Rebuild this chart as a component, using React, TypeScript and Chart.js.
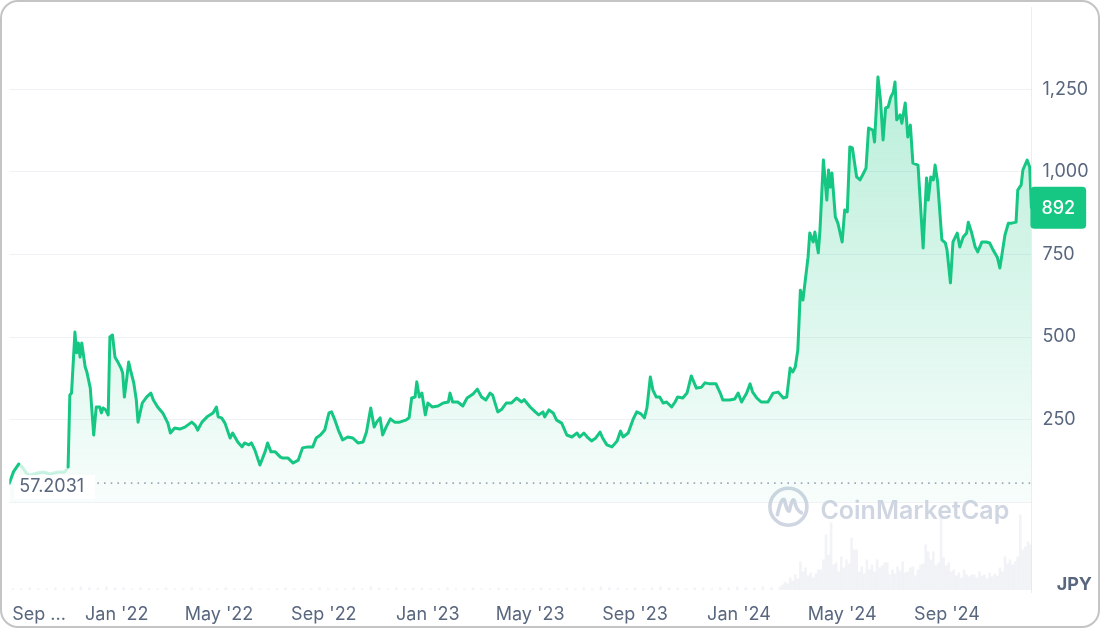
import React, { useEffect, useRef } from "react";
import { Chart, registerables } from "chart.js";

Chart.register(...registerables);

// Days since 1 Sep 2021
const DAYS = [
  -4, 1, 7, 11, 16, 20, 29, 36, 44, 53,
  61, 65, 67, 69, 73, 75, 77, 79, 81, 85,
  87, 91, 95, 98, 102, 104, 106, 109, 112, 114,
  117, 120, 124, 127, 129, 131, 134, 136, 139, 142,
  145, 147, 152, 157, 162, 165, 170, 176, 182, 185,
  190, 196, 202, 210, 214, 217, 222, 228, 235, 239,
  241, 245, 249, 255, 258, 264, 269, 272, 277, 280,
  284, 290, 296, 299, 303, 308, 314, 317, 323, 329,
  335, 340, 346, 352, 356, 361, 366, 371, 374, 378,
  382, 387, 393, 399, 405, 411, 415, 420, 424, 427,
  431, 434, 438, 443, 448, 454, 461, 465, 468, 472,
  474, 477, 480, 484, 487, 492, 499, 505, 511, 513,
  516, 522, 528, 533, 540, 545, 550, 555, 560, 563,
  569, 574, 579, 585, 591, 597, 600, 607, 613, 617,
  622, 624, 629, 634, 638, 644, 650, 656, 662, 665,
  670, 675, 679, 684, 689, 692, 697, 703, 709, 713,
  716, 722, 728, 732, 737, 741, 744, 748, 751, 755,
  759, 763, 767, 773, 777, 780, 786, 791, 796, 802,
  808, 812, 818, 825, 830, 833, 841, 847, 851, 855,
  861, 865, 868, 873, 878, 886, 892, 898, 904, 908,
  912, 915, 918, 921, 924, 927, 933, 935, 939, 941,
  945, 947, 951, 955, 957, 959, 961, 965, 968, 973,
  976, 979, 982, 985, 990, 994, 997, 1001, 1004, 1009,
  1011, 1015, 1018, 1021, 1024, 1027, 1030, 1033, 1035, 1037,
  1041, 1043, 1047, 1049, 1050, 1053, 1056, 1062, 1068, 1072,
  1074, 1077, 1080, 1082, 1085, 1090, 1094, 1096, 1100, 1103,
  1108, 1111, 1115, 1119, 1121, 1125, 1129, 1132, 1137, 1142,
  1146, 1150, 1155, 1158, 1160, 1164, 1168, 1172, 1177, 1179,
  1183, 1185, 1190, 1193, 1195,
];

// Price in JPY
const PRICES = [
  57.2, 92, 115, 107, 88, 82, 88, 91, 85, 91,
  91, 106, 324, 330, 515, 452, 482, 439, 482, 409,
  394, 345, 203, 288, 288, 270, 285, 279, 264, 500,
  506, 439, 421, 406, 391, 318, 379, 424, 391, 361,
  309, 242, 300, 318, 330, 309, 288, 270, 239, 209,
  224, 221, 227, 242, 233, 218, 242, 258, 270, 288,
  258, 255, 239, 194, 209, 182, 167, 179, 173, 179,
  158, 112, 152, 179, 152, 152, 136, 133, 133, 118,
  127, 164, 167, 167, 194, 203, 218, 270, 273, 248,
  218, 188, 197, 194, 179, 182, 212, 285, 227, 242,
  255, 203, 227, 252, 242, 242, 248, 255, 315, 318,
  364, 318, 330, 264, 300, 288, 291, 300, 303, 330,
  303, 303, 291, 315, 327, 342, 318, 309, 330, 324,
  273, 282, 300, 300, 315, 303, 310, 288, 273, 264,
  273, 258, 279, 270, 248, 239, 203, 197, 209, 197,
  209, 194, 185, 194, 212, 194, 173, 167, 185, 215,
  197, 209, 252, 273, 267, 255, 285, 379, 339, 318,
  318, 300, 303, 288, 303, 318, 315, 330, 382, 345,
  348, 361, 358, 358, 330, 309, 309, 312, 330, 303,
  330, 358, 333, 315, 303, 303, 330, 333, 315, 318,
  406, 394, 409, 461, 642, 612, 742, 815, 788, 818,
  755, 824, 1036, 915, 1006, 954, 997, 864, 845, 788,
  885, 879, 1076, 1073, 985, 976, 991, 1012, 1133, 1127,
  1091, 1288, 1218, 1097, 1194, 1197, 1227, 1242, 1273, 1158,
  1173, 1148, 1209, 1142, 1106, 1142, 1027, 1021, 770, 982,
  915, 985, 976, 1021, 970, 794, 785, 764, 664, 788,
  815, 773, 803, 815, 848, 815, 773, 758, 788, 788,
  785, 764, 742, 709, 742, 809, 845, 845, 848, 945,
  961, 1006, 1036, 1015, 892,
];

const BASE_PRICE = 57.2031;
const BASE_LABEL = "57.2031";
const FADED_FROM_DAY = 7;
const FADED_TO_DAY = 65;

// Volume (relative units), early period every 10 days
const EARLY_VOL_DAYS = Array.from({ length: 90 }, (_, i) => i * 10);
const EARLY_VOLUME = [
  1, 1, 2, 1, 1, 2, 1, 2, 3, 2,
  2, 3, 2, 2, 1, 2, 1, 1, 2, 1,
  1, 2, 1, 1, 1, 2, 1, 1, 2, 1,
  1, 1, 2, 1, 1, 1, 2, 1, 1, 1,
  2, 1, 3, 2, 1, 2, 1, 2, 2, 1,
  1, 2, 1, 1, 2, 1, 1, 2, 1, 1,
  1, 1, 2, 1, 1, 2, 1, 2, 1, 3,
  2, 2, 1, 2, 1, 2, 3, 2, 2, 1,
  2, 2, 1, 2, 2, 3, 2, 2, 3, 2,
];
// Later period every 3 days
const LATE_VOL_DAYS = Array.from({ length: 99 }, (_, i) => 900 + i * 3);
const LATE_VOLUME = [
  3, 5, 8, 6, 12, 9, 15, 11, 28, 18,
  22, 14, 17, 12, 16, 20, 20, 30, 55, 35,
  67, 25, 27, 18, 33, 22, 30, 26, 52, 40,
  40, 18, 23, 16, 30, 20, 25, 18, 30, 22,
  24, 27, 27, 15, 20, 16, 23, 19, 28, 17,
  18, 22, 23, 14, 20, 25, 26, 45, 38, 30,
  38, 24, 27, 78, 32, 24, 27, 18, 20, 14,
  17, 12, 20, 15, 13, 15, 15, 12, 18, 14,
  15, 11, 17, 13, 16, 14, 22, 18, 33, 26,
  30, 25, 28, 33, 75, 40, 43, 48, 45,
];

const TICK_DAYS = [0, 122, 242, 365, 487, 607, 730, 852, 973, 1096];
const TICK_LABELS = ["Sep ...", "Jan '22", "May '22", "Sep '22", "Jan '23", "May '23", "Sep '23", "Jan '24", "May '24", "Sep '24"];
const Y_TICKS = [0, 250, 500, 750, 1000, 1250];
const CURRENCY = "JPY";
const WATERMARK = "CoinMarketCap";

const GREEN = "#16c784";
const TEXT = "#58667e";
const WM = "#cfd6e2";
const FONT = "Inter";
const FS = 18;

const decorPlugin = {
  id: "decor",
  beforeDatasetsDraw(chart: any) {
    const { ctx, chartArea: a } = chart;
    const cx = a.right - 243;
    const cy = a.bottom - 86;
    ctx.save();
    ctx.strokeStyle = WM;
    ctx.lineWidth = 3.6;
    ctx.lineJoin = "round";
    ctx.lineCap = "round";
    ctx.beginPath();
    ctx.arc(cx, cy, 18.5, 0, Math.PI * 2);
    ctx.stroke();
    ctx.beginPath();
    ctx.moveTo(cx - 11, cy + 8);
    ctx.quadraticCurveTo(cx - 7, cy - 10, cx - 4, cy - 7);
    ctx.quadraticCurveTo(cx - 1, cy + 6, cx + 1, cy + 4);
    ctx.quadraticCurveTo(cx + 4, cy - 10, cx + 6, cy - 6);
    ctx.quadraticCurveTo(cx + 8, cy + 4, cx + 13, cy + 6);
    ctx.stroke();
    ctx.fillStyle = WM;
    ctx.font = `600 25px ${FONT}`;
    ctx.textBaseline = "alphabetic";
    ctx.textAlign = "left";
    ctx.fillText(WATERMARK, a.right - 211, a.bottom - 74);
    ctx.restore();
  },
  afterDatasetsDraw(chart: any) {
    const { ctx, chartArea: a, scales } = chart;
    const y = scales.y;
    const by = y.getPixelForValue(BASE_PRICE);
    ctx.save();
    // dotted baseline
    ctx.strokeStyle = "#9ea8b8";
    ctx.lineWidth = 1.6;
    ctx.setLineDash([1.6, 5.1]);
    ctx.beginPath();
    ctx.moveTo(a.left + 88, by);
    ctx.lineTo(a.right, by);
    ctx.stroke();
    ctx.setLineDash([]);
    // base label
    ctx.font = `${FS}px ${FONT}`;
    const tw = ctx.measureText(BASE_LABEL).width;
    ctx.fillStyle = "#ffffff";
    ctx.fillRect(a.left + 5, by - 8, tw + 16, 24);
    ctx.fillStyle = TEXT;
    ctx.textBaseline = "middle";
    ctx.textAlign = "left";
    ctx.fillText(BASE_LABEL, a.left + 10, by + 3.5);
    // last price tag
    const last = PRICES[PRICES.length - 1];
    const py = y.getPixelForValue(last);
    ctx.font = `500 ${FS}px ${FONT}`;
    const label = String(last);
    const lw = ctx.measureText(label).width;
    const bx = a.right - 1;
    const bw = lw + 22;
    const bh = 42;
    ctx.fillStyle = GREEN;
    ctx.beginPath();
    ctx.roundRect(bx, py - bh / 2, bw, bh, 4);
    ctx.fill();
    ctx.fillStyle = "#ffffff";
    ctx.fillText(label, bx + 11, py + 1);
    ctx.restore();
  },
  afterDraw(chart: any) {
    const { ctx, chartArea: a, scales } = chart;
    ctx.save();
    ctx.fillStyle = TEXT;
    ctx.font = `bold ${FS}px ${FONT}`;
    ctx.textAlign = "right";
    ctx.textBaseline = "middle";
    ctx.fillText(CURRENCY, chart.width - 8, a.bottom - 8);
    ctx.font = `${FS}px ${FONT}`;
    ctx.textAlign = "left";
    const x0 = scales.x.getPixelForValue(TICK_DAYS[0]);
    ctx.fillText(TICK_LABELS[0], x0 - 0.5, a.bottom + 22.25);
    ctx.restore();
  },
};

export default function App() {
  const ref = useRef<HTMLCanvasElement>(null);
  useEffect(() => {
    const canvas = ref.current;
    if (!canvas) return;
    const priceData = DAYS.map((d, i) => ({ x: d, y: PRICES[i] }));
    const volData = [
      ...EARLY_VOL_DAYS.map((d, i) => ({ x: d, y: EARLY_VOLUME[i] })),
      ...LATE_VOL_DAYS.map((d, i) => ({ x: d, y: LATE_VOLUME[i] })),
    ];
    const chart = new Chart(canvas, {
      type: "line",
      data: {
        datasets: [
          {
            type: "line",
            data: priceData,
            yAxisID: "y",
            order: 0,
            borderColor: GREEN,
            borderWidth: 3,
            borderJoinStyle: "round",
            borderCapStyle: "round",
            pointRadius: 0,
            tension: 0,
            fill: "origin",
            backgroundColor: (c: any) => {
              const area = c.chart.chartArea;
              if (!area) return "rgba(22,199,132,0.15)";
              const y0 = c.chart.scales.y.getPixelForValue(0);
              const g = c.chart.ctx.createLinearGradient(0, area.top, 0, y0);
              g.addColorStop(0, "rgba(22,199,132,0.34)");
              g.addColorStop(1, "rgba(22,199,132,0.03)");
              return g;
            },
            segment: {
              borderColor: (s: any) =>
                s.p0.parsed.x >= FADED_FROM_DAY && s.p1.parsed.x <= FADED_TO_DAY
                  ? "rgba(22,199,132,0.22)"
                  : undefined,
            },
          } as any,
          {
            type: "bar",
            data: volData,
            yAxisID: "y2",
            order: 1,
            backgroundColor: "rgba(205,212,225,0.28)",
            barThickness: 2,
            grouped: false,
          } as any,
        ],
      },
      options: {
        animation: false,
        responsive: false,
        devicePixelRatio: 1,
        layout: { padding: { left: 9.3, right: 0, top: 7, bottom: 0 } },
        plugins: { legend: { display: false }, tooltip: { enabled: false } },
        events: [],
        scales: {
          x: {
            type: "linear",
            min: -4,
            max: 1195,
            offset: false,
            grid: { display: false, offset: false, drawTicks: false },
            border: { display: false },
            afterBuildTicks: (s: any) => {
              s.ticks = TICK_DAYS.map((v) => ({ value: v }));
            },
            afterFit: (s: any) => {
              s.height = 35.25;
              s.paddingLeft = 0;
              s.paddingRight = 0;
            },
            ticks: {
              autoSkip: false,
              maxRotation: 0,
              minRotation: 0,
              padding: 11.4,
              color: TEXT,
              font: { family: FONT, size: FS },
              callback: (v: any) => {
                const i = TICK_DAYS.indexOf(Number(v));
                return i <= 0 ? "" : TICK_LABELS[i];
              },
            },
          },
          y: {
            position: "right",
            min: -275,
            max: 1500,
            afterBuildTicks: (s: any) => {
              s.ticks = Y_TICKS.map((v) => ({ value: v }));
            },
            afterFit: (s: any) => {
              s.width = 68.6;
              s.paddingTop = 0;
              s.paddingBottom = 0;
            },
            grid: { color: "#eff2f5", drawTicks: false, lineWidth: 1 },
            border: { display: true, color: "#eaedf1" },
            ticks: {
              padding: 11,
              color: TEXT,
              font: { family: FONT, size: FS },
              callback: (v: any) => (Number(v) === 0 ? "" : Number(v).toLocaleString("en-US")),
            },
          },
          y2: { display: false, min: -3, max: 582.75 },
        },
      } as any,
      plugins: [decorPlugin],
    });
    return () => chart.destroy();
  }, []);

  return (
    <div style={{ position: "fixed", left: 0, top: 0, width: 1100, height: 628, background: "#ffffff" }}>
      <canvas ref={ref} width={1100} height={628} style={{ position: "absolute", left: 0, top: 0, width: 1100, height: 628 }} />
      <div
        style={{
          position: "absolute",
          inset: 0,
          border: "2px solid #c4c4c4",
          borderRadius: 18,
          pointerEvents: "none",
          boxSizing: "border-box",
        }}
      />
    </div>
  );
}
